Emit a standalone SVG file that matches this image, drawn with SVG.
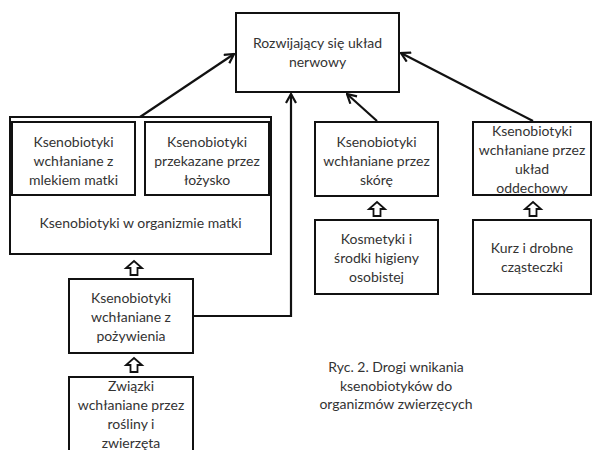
<svg xmlns="http://www.w3.org/2000/svg" width="594" height="450" viewBox="0 0 594 450">
<defs>
<style>
.box{fill:#fff;stroke:#111;stroke-width:2}
.t{font-family:Lato,"Liberation Sans",sans-serif;font-size:14px;fill:#333;text-anchor:middle}
.c{stroke:#111;stroke-width:2.2;fill:none}
.ha{fill:#fff;stroke:#111;stroke-width:1.8;stroke-linejoin:miter}
</style>
<marker id="ah2" viewBox="0 0 12 12" refX="11" refY="6" markerWidth="12" markerHeight="12" orient="auto" markerUnits="userSpaceOnUse">
<path d="M2,1 L11,6 L2,11" fill="none" stroke="#111" stroke-width="2.2"/>
</marker>
<path id="hollow" d="M0,0 L8,7 L3.5,7 L3.5,14 L-3.5,14 L-3.5,7 L-8,7 Z"/>
</defs>
<rect width="594" height="450" fill="#fff"/>

<g id="connectors">
<line class="c" x1="140" y1="117" x2="234" y2="54" marker-end="url(#ah2)"/>
<polyline class="c" points="193,316 291,316 291,94" marker-end="url(#ah2)"/>
<line class="c" x1="377" y1="121" x2="347" y2="94" marker-end="url(#ah2)"/>
<line class="c" x1="533" y1="121" x2="401" y2="53" marker-end="url(#ah2)"/>
<use href="#hollow" class="ha" x="134" y="261"/>
<use href="#hollow" class="ha" x="134" y="358"/>
<use href="#hollow" class="ha" x="377" y="202"/>
<use href="#hollow" class="ha" x="533" y="202"/>
</g>

<g id="n-top">
<rect class="box" x="236" y="13" width="163" height="79"/>
<text class="t" x="317.5" y="48">Rozwijający się układ</text>
<text class="t" x="317.5" y="67">nerwowy</text>
</g>

<g id="n-matka">
<rect class="box" x="10" y="117" width="261" height="137"/>
<text class="t" x="140.5" y="228">Ksenobiotyki w organizmie matki</text>
</g>

<g id="n-mleko">
<rect class="box" x="12" y="122" width="123" height="73"/>
<text class="t" x="73.5" y="147">Ksenobiotyki</text>
<text class="t" x="73.5" y="166">wchłaniane z</text>
<text class="t" x="73.5" y="185">mlekiem matki</text>
</g>

<g id="n-lozysko">
<rect class="box" x="145" y="122" width="124" height="73"/>
<text class="t" x="207" y="147">Ksenobiotyki</text>
<text class="t" x="207" y="166">przekazane przez</text>
<text class="t" x="207" y="185">łożysko</text>
</g>

<g id="n-skora">
<rect class="box" x="315" y="122" width="123" height="74"/>
<text class="t" x="376.5" y="147">Ksenobiotyki</text>
<text class="t" x="376.5" y="166">wchłaniane przez</text>
<text class="t" x="376.5" y="185">skórę</text>
</g>

<g id="n-oddech">
<rect class="box" x="473" y="122" width="118" height="73"/>
<text class="t" x="532" y="136">Ksenobiotyki</text>
<text class="t" x="532" y="155">wchłaniane przez</text>
<text class="t" x="532" y="174">układ</text>
<text class="t" x="532" y="193">oddechowy</text>
</g>

<g id="n-kosmetyki">
<rect class="box" x="315" y="220" width="123" height="74"/>
<text class="t" x="376.5" y="244">Kosmetyki i</text>
<text class="t" x="376.5" y="263">środki higieny</text>
<text class="t" x="376.5" y="282">osobistej</text>
</g>

<g id="n-kurz">
<rect class="box" x="473" y="220" width="118" height="74"/>
<text class="t" x="532" y="253">Kurz i drobne</text>
<text class="t" x="532" y="272">cząsteczki</text>
</g>

<g id="n-pozywienie">
<rect class="box" x="69" y="279" width="124" height="74"/>
<text class="t" x="131" y="303">Ksenobiotyki</text>
<text class="t" x="131" y="322">wchłaniane z</text>
<text class="t" x="131" y="341">pożywienia</text>
</g>

<g id="n-zwiazki">
<rect class="box" x="69" y="377" width="124" height="80"/>
<text class="t" x="131" y="391">Związki</text>
<text class="t" x="131" y="410">wchłaniane przez</text>
<text class="t" x="131" y="429">rośliny i</text>
<text class="t" x="131" y="448">zwierzęta</text>
</g>

<g id="caption">
<text class="t" x="396" y="372">Ryc. 2. Drogi wnikania</text>
<text class="t" x="396" y="391">ksenobiotyków do</text>
<text class="t" x="396" y="409">organizmów zwierzęcych</text>
</g>
</svg>
